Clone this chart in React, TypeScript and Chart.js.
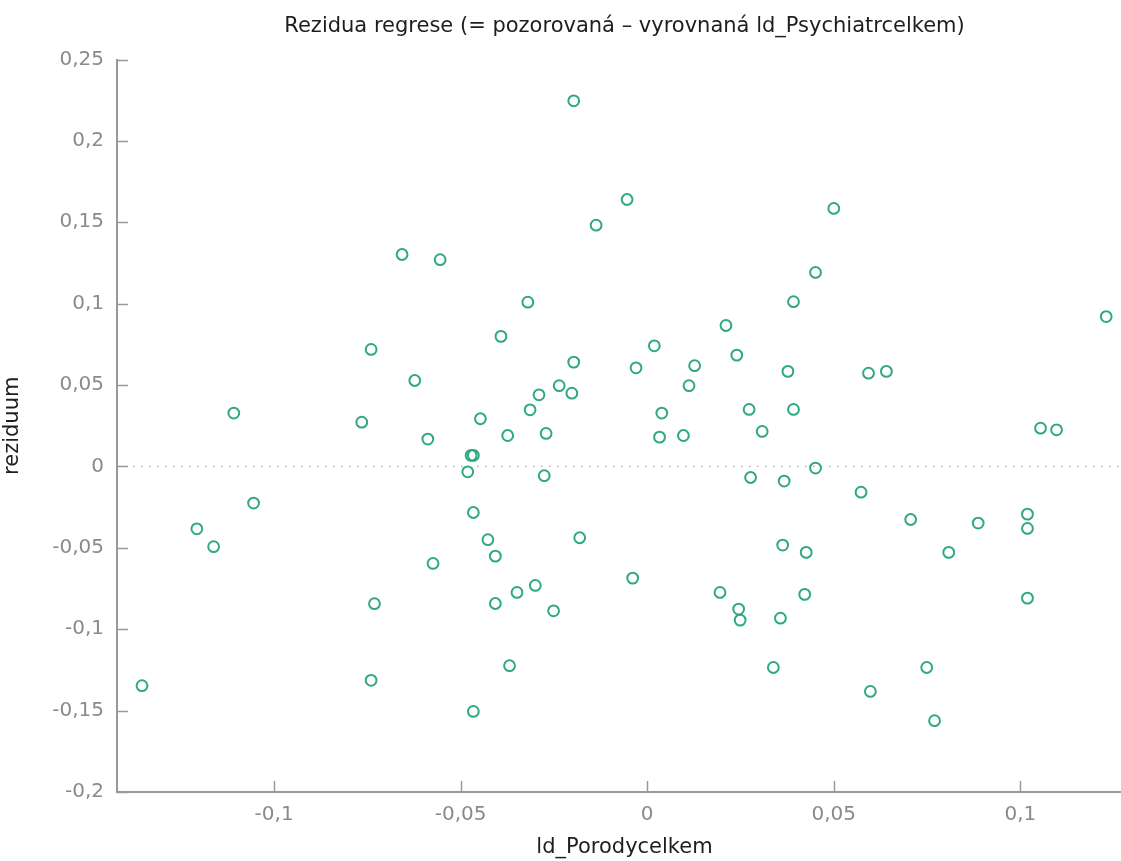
import React, { useEffect, useRef } from "react";
import { Chart, registerables } from "chart.js";

Chart.register(...registerables);

const titleText = "Rezidua regrese (= pozorovaná – vyrovnaná ld_Psychiatrcelkem)";
const xTitle = "ld_Porodycelkem";
const yTitle = "reziduum";

const xTickValues = [-0.1, -0.05, 0, 0.05, 0.1];
const xTickLabels = ["-0,1", "-0,05", "0", "0,05", "0,1"];
const yTickValues = [-0.2, -0.15, -0.1, -0.05, 0, 0.05, 0.1, 0.15, 0.2, 0.25];
const yTickLabels = ["-0,2", "-0,15", "-0,1", "-0,05", "0", "0,05", "0,1", "0,15", "0,2", "0,25"];

const xRange = [-0.1421, 0.1267];
const yRange = [-0.2, 0.25];

const xValues = [
  -0.0657, -0.0555, -0.074, -0.0623, -0.1108, -0.0765, -0.0588, -0.1055, -0.1207, -0.1162,
  -0.0574, -0.0731, -0.074, -0.1354, -0.0197, -0.0054, -0.0137, -0.032, -0.0392, 0.0211,
  0.0019, 0.024, -0.0197, -0.003, 0.0127, -0.0236, -0.0202, -0.029, 0.0112, -0.0314,
  -0.0447, 0.0039, 0.0273, -0.0374, -0.0271, 0.0033, 0.0097, 0.0308, -0.0472, -0.0466,
  -0.0481, -0.0276, 0.0277, -0.0466, -0.0427, -0.0407, -0.0181, -0.0039, -0.03, -0.0349,
  -0.0407, -0.0251, 0.0195, 0.0245, 0.0249, -0.0369, -0.0466, 0.05, 0.0451, 0.0392,
  0.123, 0.0377, 0.0593, 0.0641, 0.0392, 0.1054, 0.1097, 0.0451, 0.0367, 0.0573,
  0.0706, 0.0887, 0.1019, 0.1019, 0.0363, 0.0426, 0.0808, 0.0422, 0.0357, 0.1019,
  0.0338, 0.0749, 0.0598, 0.077,
];
const yValues = [
  0.1302, 0.127, 0.0719, 0.0528, 0.0328, 0.0272, 0.0168, -0.0225, -0.0383, -0.0493,
  -0.0596, -0.0843, -0.1314, -0.1347, 0.2246, 0.164, 0.1482, 0.1009, 0.0799, 0.0866,
  0.0741, 0.0684, 0.0641, 0.0606, 0.0619, 0.0496, 0.045, 0.044, 0.0496, 0.0348,
  0.0293, 0.0328, 0.035, 0.019, 0.0203, 0.018, 0.019, 0.0215, 0.0068, 0.0068,
  -0.0033, -0.0057, -0.0068, -0.0283, -0.045, -0.0551, -0.0438, -0.0686, -0.0731, -0.0774,
  -0.0842, -0.0887, -0.0774, -0.0876, -0.0944, -0.1224, -0.1505, 0.1585, 0.1192, 0.1012,
  0.0921, 0.0584, 0.0573, 0.0584, 0.035, 0.0235, 0.0225, -0.001, -0.009, -0.0158,
  -0.0326, -0.0348, -0.0293, -0.0381, -0.0483, -0.0528, -0.0528, -0.0786, -0.0932, -0.0809,
  -0.1235, -0.1235, -0.1382, -0.1562,
];

const POINT_COLOR = "#2fa97f";
const AXIS_COLOR = "#999999";
const TICK_LABEL_COLOR = "#8a8a8a";
const TEXT_COLOR = "#1e1e1e";
const FONT = "'DejaVu Sans', Verdana, sans-serif";

const innerTicks = {
  id: "innerTicks",
  afterDraw(chart: any) {
    const { ctx, chartArea, scales } = chart;
    ctx.save();
    ctx.strokeStyle = AXIS_COLOR;
    ctx.lineWidth = 1.5;
    const len = 11;
    for (const v of yTickValues) {
      const y = Math.round(scales.y.getPixelForValue(v)) + 0.5;
      ctx.beginPath();
      ctx.moveTo(chartArea.left, y);
      ctx.lineTo(chartArea.left + len, y);
      ctx.stroke();
    }
    for (const v of xTickValues) {
      const x = Math.round(scales.x.getPixelForValue(v)) + 0.5;
      ctx.beginPath();
      ctx.moveTo(x, chartArea.bottom);
      ctx.lineTo(x, chartArea.bottom - len);
      ctx.stroke();
    }
    // chart title and x-axis title, centred over the plot area
    const cx = (chartArea.left + chartArea.right) / 2 + 6;
    ctx.fillStyle = TEXT_COLOR;
    ctx.font = `21px ${FONT}`;
    ctx.textAlign = "center";
    ctx.textBaseline = "middle";
    ctx.fillText(titleText, cx, 27);
    ctx.fillText(xTitle, cx, chartArea.bottom + 56);
    ctx.restore();
  },
};

export default function App() {
  const ref = useRef<HTMLCanvasElement>(null);
  useEffect(() => {
    if (!ref.current) return;
    const points = xValues.map((x, i) => ({ x, y: yValues[i] }));
    const chart = new Chart(ref.current, {
      type: "scatter",
      data: {
        datasets: [
          {
            type: "line",
            data: [
              { x: xRange[0], y: 0 },
              { x: xRange[1], y: 0 },
            ],
            borderColor: "#aaaaaa",
            borderWidth: 1.2,
            borderDash: [1.5, 6.5],
            pointRadius: 0,
            fill: false,
          } as any,
          {
            data: points,
            pointStyle: "circle",
            pointRadius: 5.4,
            pointBorderWidth: 2,
            borderColor: POINT_COLOR,
            backgroundColor: "rgba(255,255,255,0)",
            pointHoverRadius: 5.4,
          },
        ],
      },
      options: {
        animation: false,
        responsive: true,
        maintainAspectRatio: false,
        layout: { autoPadding: false, padding: { left: 0, right: 1, top: 59.5, bottom: 0 } },
        plugins: {
          legend: { display: false },
          tooltip: { enabled: false },
          title: { display: false },
        },
        scales: {
          x: {
            type: "linear",
            min: xRange[0],
            max: xRange[1],
            afterBuildTicks: (s: any) => {
              s.ticks = xTickValues.map((v) => ({ value: v }));
            },
            afterFit: (s: any) => {
              s.height = 69;
            },
            grid: { display: false, drawTicks: false },
            border: { display: true, color: AXIS_COLOR, width: 2 },
            ticks: {
              color: TICK_LABEL_COLOR,
              font: { family: FONT, size: 20 },
              padding: 11,
              maxRotation: 0,
              autoSkip: false,
              callback: (v: any) => {
                const i = xTickValues.findIndex((t) => Math.abs(t - v) < 1e-9);
                return i >= 0 ? xTickLabels[i] : "";
              },
            },
            title: { display: false },
          },
          y: {
            type: "linear",
            min: yRange[0],
            max: yRange[1],
            afterBuildTicks: (s: any) => {
              s.ticks = yTickValues.map((v) => ({ value: v }));
            },
            afterFit: (s: any) => {
              s.width = 117;
            },
            grid: { display: false, drawTicks: false },
            border: { display: true, color: AXIS_COLOR, width: 2 },
            ticks: {
              color: TICK_LABEL_COLOR,
              font: { family: FONT, size: 20 },
              padding: 13,
              autoSkip: false,
              callback: (v: any) => {
                const i = yTickValues.findIndex((t) => Math.abs(t - v) < 1e-9);
                return i >= 0 ? yTickLabels[i] : "";
              },
            },
            title: {
              display: true,
              text: yTitle,
              color: TEXT_COLOR,
              font: { family: FONT, size: 21 },
              padding: { top: 0, bottom: 0 },
            },
          },
        },
      },
      plugins: [innerTicks],
    });
    return () => chart.destroy();
  }, []);
  return (
    <div style={{ position: "fixed", left: 0, top: 0, width: 1121, height: 861, background: "#fff" }}>
      <canvas ref={ref} />
    </div>
  );
}
